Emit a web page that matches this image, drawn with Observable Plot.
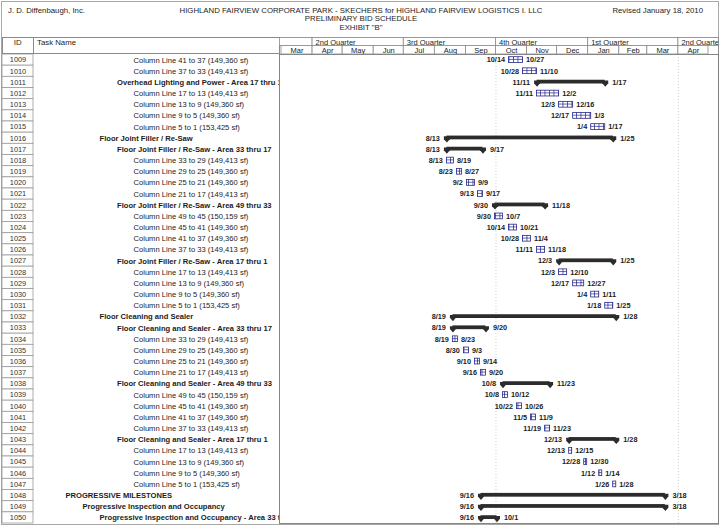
<!DOCTYPE html>
<html>
<head>
<meta charset="utf-8">
<script src="https://cdn.jsdelivr.net/npm/d3@7"></script>
<script src="https://cdn.jsdelivr.net/npm/@observablehq/plot@0.6"></script>
<style>
  html, body { margin: 0; padding: 0; background: #fff; }
  body { font-family: "Liberation Sans", Arial, sans-serif; color: #1c1c1c; }
  #page { position: relative; width: 720px; height: 529px; overflow: hidden; background: #fff; }
  .abs { position: absolute; white-space: nowrap; line-height: 0; }
  .hdr { font-size: 7.8px; line-height: 8.6px; }
  .box { position: absolute; box-sizing: border-box; border: 0.8px solid #8a8a8a; font-size: 7.8px; }
</style>
</head>
<body>
<div id="page">
  <div class="abs" style="left:1px;top:1px;width:718px;height:524px;box-sizing:border-box;border:1px solid #a8a8a8;"></div>
  <div class="abs hdr" style="left:8px;top:6.5px;">J. D. Diffenbaugh, Inc.</div>
  <div class="abs hdr" style="left:0;top:6.5px;width:722px;text-align:center;">HIGHLAND FAIRVIEW CORPORATE PARK - SKECHERS for HIGHLAND FAIRVIEW LOGISTICS I. LLC<br>PRELIMINARY BID SCHEDULE<br>EXHIBIT "B"</div>
  <div class="abs hdr" style="right:17px;top:6.5px;">Revised January 18, 2010</div>
  <div class="box" style="left:2px;top:37px;width:31.5px;height:17px;text-align:center;line-height:10px;">ID</div>
  <div class="box" style="left:33px;top:37px;width:246.5px;height:17px;padding-left:3px;line-height:10px;">Task Name</div>
  <div id="header" class="abs" style="left:279px;top:37px;"></div>
  <div id="left" class="abs" style="left:0;top:54px;"></div>
  <div id="main" class="abs" style="left:279px;top:54px;"></div>
</div>
<script>
// ---------------- data ----------------
const ids = [1009,1010,1011,1012,1013,1014,1015,1016,1017,1018,1019,1020,1021,1022,1023,1024,1025,1026,1027,1028,1029,1030,1031,1032,1033,1034,1035,1036,1037,1038,1039,1040,1041,1042,1043,1044,1045,1046,1047,1048,1049,1050];

const taskNames = [
  "Column Line 41 to 37 (149,360 sf)",
  "Column Line 37 to 33 (149,413 sf)",
  "Overhead Lighting and Power - Area 17 thru 1",
  "Column Line 17 to 13 (149,413 sf)",
  "Column Line 13 to 9 (149,360 sf)",
  "Column Line 9 to 5 (149,360 sf)",
  "Column Line 5 to 1 (153,425 sf)",
  "Floor Joint Filler / Re-Saw",
  "Floor Joint Filler / Re-Saw - Area 33 thru 17",
  "Column Line 33 to 29 (149,413 sf)",
  "Column Line 29 to 25 (149,360 sf)",
  "Column Line 25 to 21 (149,360 sf)",
  "Column Line 21 to 17 (149,413 sf)",
  "Floor Joint Filler / Re-Saw - Area 49 thru 33",
  "Column Line 49 to 45 (150,159 sf)",
  "Column Line 45 to 41 (149,360 sf)",
  "Column Line 41 to 37 (149,360 sf)",
  "Column Line 37 to 33 (149,413 sf)",
  "Floor Joint Filler / Re-Saw - Area 17 thru 1",
  "Column Line 17 to 13 (149,413 sf)",
  "Column Line 13 to 9 (149,360 sf)",
  "Column Line 9 to 5 (149,360 sf)",
  "Column Line 5 to 1 (153,425 sf)",
  "Floor Cleaning and Sealer",
  "Floor Cleaning and Sealer - Area 33 thru 17",
  "Column Line 33 to 29 (149,413 sf)",
  "Column Line 29 to 25 (149,360 sf)",
  "Column Line 25 to 21 (149,360 sf)",
  "Column Line 21 to 17 (149,413 sf)",
  "Floor Cleaning and Sealer - Area 49 thru 33",
  "Column Line 49 to 45 (150,159 sf)",
  "Column Line 45 to 41 (149,360 sf)",
  "Column Line 41 to 37 (149,360 sf)",
  "Column Line 37 to 33 (149,413 sf)",
  "Floor Cleaning and Sealer - Area 17 thru 1",
  "Column Line 17 to 13 (149,413 sf)",
  "Column Line 13 to 9 (149,360 sf)",
  "Column Line 9 to 5 (149,360 sf)",
  "Column Line 5 to 1 (153,425 sf)",
  "PROGRESSIVE MILESTONES",
  "Progressive Inspection and Occupancy",
  "Progressive Inspection and Occupancy - Area 33 thru 17"
];

// outline level (5 = detail task, lower = summary)
const outlineLevels = [5,5,4,5,5,5,5,3,4,5,5,5,5,4,5,5,5,5,4,5,5,5,5,3,4,5,5,5,5,4,5,5,5,5,4,5,5,5,5,1,2,3];

const startDates = [
  "2010-10-14","2010-10-28","2010-11-11","2010-11-11","2010-12-03","2010-12-17","2011-01-04",
  "2010-08-13","2010-08-13","2010-08-13","2010-08-23","2010-09-02","2010-09-13",
  "2010-09-30","2010-09-30","2010-10-14","2010-10-28","2010-11-11",
  "2010-12-03","2010-12-03","2010-12-17","2011-01-04","2011-01-18",
  "2010-08-19","2010-08-19","2010-08-19","2010-08-30","2010-09-10","2010-09-16",
  "2010-10-08","2010-10-08","2010-10-22","2010-11-05","2010-11-19",
  "2010-12-13","2010-12-13","2010-12-28","2011-01-12","2011-01-26",
  "2010-09-16","2010-09-16","2010-09-16"
];
const endDates = [
  "2010-10-27","2010-11-10","2011-01-17","2010-12-02","2010-12-16","2011-01-03","2011-01-17",
  "2011-01-25","2010-09-17","2010-08-19","2010-08-27","2010-09-09","2010-09-17",
  "2010-11-18","2010-10-07","2010-10-21","2010-11-04","2010-11-18",
  "2011-01-25","2010-12-10","2010-12-27","2011-01-11","2011-01-25",
  "2011-01-28","2010-09-20","2010-08-23","2010-09-03","2010-09-14","2010-09-20",
  "2010-11-23","2010-10-12","2010-10-26","2010-11-09","2010-11-23",
  "2011-01-28","2010-12-15","2010-12-30","2011-01-14","2011-01-28",
  "2011-03-18","2011-03-18","2010-10-01"
];

// timescale header
const quarterStarts = ["2010-01-01","2010-04-01","2010-07-01","2010-10-01","2011-01-01","2011-04-01"];
const quarterLabels = ["1st Quarter","2nd Quarter","3rd Quarter","4th Quarter","1st Quarter","2nd Quarter"];
const monthStarts = ["2010-03-01","2010-04-01","2010-05-01","2010-06-01","2010-07-01","2010-08-01","2010-09-01","2010-10-01","2010-11-01","2010-12-01","2011-01-01","2011-02-01","2011-03-01","2011-04-01"];
const monthLabels = ["Mar","Apr","May","Jun","Jul","Aug","Sep","Oct","Nov","Dec","Jan","Feb","Mar","Apr"];
const viewRange = ["2010-02-27","2011-05-11"];
const gridDates = ["2010-10-01","2011-04-01"];

// ---------------- build ----------------
const parse = d3.utcParse("%Y-%m-%d");
const fmt = d3.utcFormat("%-m/%-d");
const FONT = "'Liberation Sans', Arial, sans-serif";
const NAVY = "#26268a";
const DARK = "#2c2c2c";
const TXT = "#1c1c1c";

const rows = ids.map((id, i) => {
  const start = parse(startDates[i]);
  const end = parse(endDates[i]);
  return {
    id: String(id), name: taskNames[i], level: outlineLevels[i],
    summary: outlineLevels[i] < 5,
    start, finish: d3.utcDay.offset(end, 1),
    startLabel: fmt(start), endLabel: fmt(end)
  };
});
const summaries = rows.filter(d => d.summary);
const leaves = rows.filter(d => !d.summary);
const yDomain = rows.map(d => d.id);
const xDomain = viewRange.map(parse);

const quarters = quarterStarts.map((s, i) => ({start: parse(s), end: d3.utcMonth.offset(parse(s), 3), label: quarterLabels[i]}));
const months = monthStarts.map((s, i) => {
  const a = parse(s), b = d3.utcMonth.offset(a, 1);
  return {start: a, end: b, mid: new Date((+a + +b) / 2), label: monthLabels[i]};
});

// header timescale
const header = Plot.plot({
  width: 441, height: 17,
  marginLeft: 0, marginRight: 2, marginTop: 0, marginBottom: 0,
  x: {type: "utc", domain: xDomain, axis: null},
  y: {type: "band", domain: ["q", "m"], padding: 0, round: false, axis: null},
  style: {fontFamily: FONT, background: "transparent", color: TXT},
  marks: [
    Plot.barX(quarters, {x1: "start", x2: "end", y: () => "q", fill: "white", stroke: "#8a8a8a", strokeWidth: 0.8, clip: true}),
    Plot.text(quarters.filter(q => q.start >= xDomain[0]), {x: "start", y: () => "q", text: "label", textAnchor: "start", dx: 3, dy: 0.5, fontSize: 7.5, fill: TXT, clip: true}),
    Plot.barX(months, {x1: "start", x2: "end", y: () => "m", fill: "white", stroke: "#8a8a8a", strokeWidth: 0.8, clip: true}),
    Plot.text(months, {x: "mid", y: () => "m", text: "label", fontSize: 7.5, dy: 0.3, fill: TXT, clip: true}),
    Plot.frame({stroke: "#8a8a8a", strokeWidth: 0.8})
  ]
});
document.getElementById("header").append(header);

// left table: ID column + task names
const indent = {1: 65, 2: 82, 3: 99, 4: 116.5, 5: 133};
const idRight = 33;
const bodyHeight = 471;
const left = Plot.plot({
  width: 279, height: bodyHeight,
  marginLeft: 2, marginRight: 279 - idRight, marginTop: 0, marginBottom: 2,
  y: {type: "band", domain: yDomain, padding: 0, round: false, axis: null},
  style: {fontFamily: FONT, background: "transparent", overflow: "hidden", color: TXT},
  marks: [
    Plot.cell(rows, {y: "id", fill: "white", stroke: "#9a9a9a", strokeWidth: 0.8}),
    Plot.text(rows, {y: "id", text: "id", frameAnchor: "middle", fontSize: 7.4, fill: "#333"}),
    ...[1, 2, 3, 4, 5].map(L => Plot.text(rows.filter(d => d.level === L), {
      y: "id", text: "name", frameAnchor: "right", textAnchor: "start",
      dx: indent[L] - idRight, fontSize: 7.6,
      fontWeight: L < 5 ? "bold" : "normal", fill: TXT
    }))
  ]
});
document.getElementById("left").append(left);

// Gantt body
const capSymbol = {
  draw(ctx, size) {
    const r = Math.sqrt(size / Math.PI);
    ctx.moveTo(-r, -r * 0.85);
    ctx.lineTo(r, -r * 0.85);
    ctx.lineTo(r, 0.1 * r);
    ctx.lineTo(0, r * 1.25);
    ctx.lineTo(-r, 0.1 * r);
    ctx.closePath();
  }
};
const main = Plot.plot({
  width: 441, height: bodyHeight,
  marginLeft: 0, marginRight: 2, marginTop: 0, marginBottom: 2,
  x: {type: "utc", domain: xDomain, axis: null},
  y: {type: "band", domain: yDomain, padding: 0, round: false, axis: null},
  style: {fontFamily: FONT, background: "transparent", color: TXT},
  marks: [
    Plot.ruleX(gridDates.map(parse), {stroke: "#c4c4c4", strokeWidth: 0.8, strokeDasharray: "1,2"}),
    Plot.barX(summaries, {x1: "start", x2: "finish", y: "id", fill: DARK, insetTop: 3.4, insetBottom: 4.0}),
    Plot.dot(summaries, {x: "start", y: "id", symbol: capSymbol, r: 3, fill: DARK, dy: 0.6}),
    Plot.dot(summaries, {x: "finish", y: "id", symbol: capSymbol, r: 3, fill: DARK, dy: 0.6}),
    Plot.barX(leaves, {x1: "start", x2: "finish", y: "id", fill: "url(#hatch)", stroke: NAVY, strokeWidth: 0.8, insetTop: 2.7, insetBottom: 2.7}),
    Plot.ruleY(leaves, {x1: "start", x2: "finish", y: "id", stroke: NAVY, strokeWidth: 0.7, dy: -0.7}),
    Plot.text(leaves, {x: "start", y: "id", text: "startLabel", textAnchor: "end", dx: -4, fontSize: 7.3, fontWeight: "bold", fill: TXT}),
    Plot.text(leaves, {x: "finish", y: "id", text: "endLabel", textAnchor: "start", dx: 3, fontSize: 7.3, fontWeight: "bold", fill: TXT}),
    Plot.text(summaries, {x: "start", y: "id", text: "startLabel", textAnchor: "end", dx: -7, fontSize: 7.3, fontWeight: "bold", fill: TXT}),
    Plot.text(summaries, {x: "finish", y: "id", text: "endLabel", textAnchor: "start", dx: 7, fontSize: 7.3, fontWeight: "bold", fill: TXT}),
    Plot.frame({stroke: "#7a7a7a", strokeWidth: 0.9})
  ]
});
// hatch pattern for the detail-task boxes
const svgMain = d3.select(main.tagName.toLowerCase() === "svg" ? main : main.querySelector("svg"));
const defs = svgMain.insert("defs", ":first-child");
const pat = defs.append("pattern").attr("id", "hatch").attr("patternUnits", "userSpaceOnUse")
  .attr("width", 4.5).attr("height", 40);
pat.append("rect").attr("width", 4.5).attr("height", 40).attr("fill", "white");
pat.append("line").attr("x1", 0.4).attr("x2", 0.4).attr("y1", 0).attr("y2", 40)
  .attr("stroke", NAVY).attr("stroke-width", 0.8);
document.getElementById("main").append(main);
</script>
</body>
</html>
